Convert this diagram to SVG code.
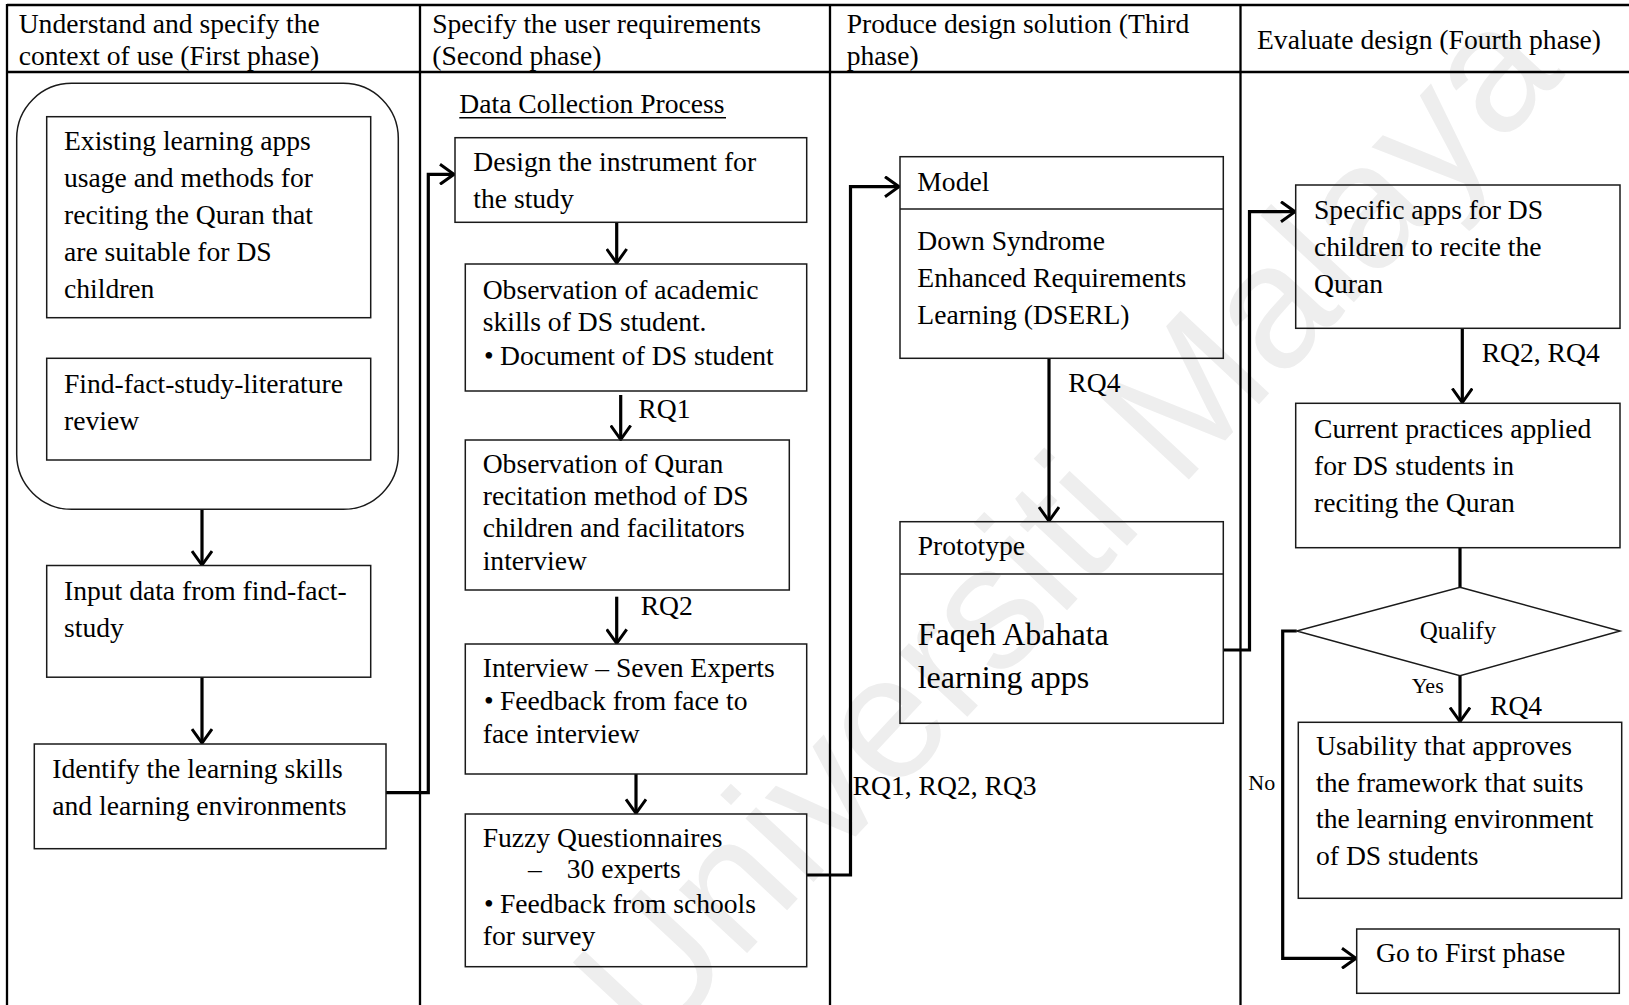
<svg xmlns="http://www.w3.org/2000/svg" width="1629" height="1005" viewBox="0 0 1629 1005">
  <style>
    .t { font-family: "Liberation Serif", "Times New Roman", serif; font-size: 27.6px; fill: #000; }
    .big { font-size: 32px; }
    .sm { font-size: 25px; }
    .xs { font-size: 22px; }
    .box { fill: none; stroke: #1a1a1a; stroke-width: 1.5; }
    .grid { stroke: #000; stroke-width: 2.3; fill: none; }
    .conn { stroke: #000; stroke-width: 3.2; fill: none; }
    .arr { stroke: #000; stroke-width: 3.2; fill: none; marker-end: url(#ah); }
    .wm { font-family: "Liberation Sans", Arial, sans-serif; font-size: 176px; fill: #eeeeee; }
  </style>
  <defs>
    <marker id="ah" viewBox="0 0 16 22" refX="15" refY="11" markerWidth="16" markerHeight="22" markerUnits="userSpaceOnUse" orient="auto">
      <path d="M1,1 L15,11 L1,21" fill="none" stroke="#000" stroke-width="3"/>
    </marker>
  </defs>

  <rect width="1629" height="1005" fill="#fff"/>

  <!-- watermark -->
  <text class="wm" transform="translate(1063,522) rotate(-47)" text-anchor="middle" y="63">Universiti Malaya</text>

  <!-- table frame -->
  <g id="table" class="grid">
    <line x1="7" y1="5" x2="1629" y2="5"/>
    <line x1="7" y1="72" x2="1629" y2="72"/>
    <line x1="7" y1="4" x2="7" y2="1005"/>
    <line x1="420" y1="4" x2="420" y2="1005"/>
    <line x1="830" y1="4" x2="830" y2="1005"/>
    <line x1="1240.5" y1="4" x2="1240.5" y2="1005"/>
  </g>

  <!-- phase headers -->
  <g id="header-phase1">
    <text class="t" x="18.7" y="33">Understand and specify the</text>
    <text class="t" x="18.7" y="64.5">context of use (First phase)</text>
  </g>
  <g id="header-phase2">
    <text class="t" x="432.2" y="33">Specify the user requirements</text>
    <text class="t" x="432.2" y="64.5">(Second phase)</text>
  </g>
  <g id="header-phase3">
    <text class="t" x="846.7" y="33">Produce design solution (Third</text>
    <text class="t" x="846.7" y="64.5">phase)</text>
  </g>
  <g id="header-phase4">
    <text class="t" x="1257" y="48.5">Evaluate design (Fourth phase)</text>
  </g>

  <!-- connectors -->
  <g id="connectors">
    <line class="arr" x1="202" y1="509.5" x2="202" y2="565"/>
    <line class="arr" x1="202" y1="677" x2="202" y2="743"/>
    <polyline class="arr" points="386,792.7 428.3,792.7 428.3,174.3 454,174.3"/>
    <line class="arr" x1="616.7" y1="222.3" x2="616.7" y2="263"/>
    <line class="arr" x1="620.7" y1="395" x2="620.7" y2="439.5"/>
    <line class="arr" x1="616.7" y1="596.7" x2="616.7" y2="643.3"/>
    <line class="arr" x1="636" y1="774" x2="636" y2="813.3"/>
    <polyline class="arr" points="806.7,875 850.5,875 850.5,186.7 899,186.7"/>
    <line class="arr" x1="1049" y1="358.3" x2="1049" y2="521"/>
    <polyline class="arr" points="1223.3,650 1249.5,650 1249.5,211.7 1295,211.7"/>
    <line class="arr" x1="1462.3" y1="328.3" x2="1462.3" y2="402.5"/>
    <line class="conn" x1="1460" y1="547.7" x2="1460" y2="587.3"/>
    <line class="arr" x1="1460" y1="675.7" x2="1460" y2="721.5"/>
    <polyline class="arr" points="1296.7,631 1282.7,631 1282.7,958.3 1356,958.3"/>
    <text class="t" x="638.3" y="418">RQ1</text>
    <text class="t" x="640.7" y="615">RQ2</text>
    <text class="t" x="852.7" y="795">RQ1, RQ2, RQ3</text>
    <text class="t" x="1068.3" y="391.7">RQ4</text>
    <text class="t" x="1481.7" y="361.7">RQ2, RQ4</text>
    <text class="t xs" x="1411.7" y="693.3">Yes</text>
    <text class="t" x="1490" y="715">RQ4</text>
    <text class="t xs" x="1248.3" y="790">No</text>
  </g>

  <!-- first phase -->
  <g id="context-group">
    <rect class="box" x="16.7" y="83.3" width="381.6" height="426" rx="55" ry="55"/>
  </g>
  <g id="existing-apps">
    <rect class="box" x="46.7" y="116.7" width="324" height="201"/>
    <text class="t" x="64" y="150">Existing learning apps</text>
    <text class="t" x="64" y="187">usage and methods for</text>
    <text class="t" x="64" y="224">reciting the Quran that</text>
    <text class="t" x="64" y="261">are suitable for DS</text>
    <text class="t" x="64" y="298">children</text>
  </g>
  <g id="literature-review">
    <rect class="box" x="46.7" y="358.3" width="324" height="101.7"/>
    <text class="t" x="64" y="392.5">Find-fact-study-literature</text>
    <text class="t" x="64" y="429.5">review</text>
  </g>
  <g id="input-data">
    <rect class="box" x="46.7" y="565.5" width="324" height="111.7"/>
    <text class="t" x="64" y="600">Input data from find-fact-</text>
    <text class="t" x="64" y="636.5">study</text>
  </g>
  <g id="identify-skills">
    <rect class="box" x="34.3" y="744" width="351.7" height="104.7"/>
    <text class="t" x="52.3" y="778">Identify the learning skills</text>
    <text class="t" x="52.3" y="815">and learning environments</text>
  </g>

  <!-- second phase -->
  <g id="data-collection-title">
    <text class="t" x="459.3" y="113.3">Data Collection Process</text>
    <line x1="459.3" y1="117.8" x2="726" y2="117.8" stroke="#000" stroke-width="1.5"/>
  </g>
  <g id="design-instrument">
    <rect class="box" x="455" y="137.7" width="351.7" height="84.6"/>
    <text class="t" x="473.3" y="170.7">Design the instrument for</text>
    <text class="t" x="473.3" y="207.7">the study</text>
  </g>
  <g id="observe-academic">
    <rect class="box" x="465.3" y="264" width="341.4" height="127"/>
    <text class="t" x="482.7" y="299">Observation of academic</text>
    <text class="t" x="482.7" y="330.5">skills of DS student.</text>
    <text class="t" x="484" y="364.5">•</text>
    <text class="t" x="500" y="364.5">Document of DS student</text>
  </g>
  <g id="observe-recitation">
    <rect class="box" x="465.3" y="440" width="324" height="150"/>
    <text class="t" x="482.7" y="473.3">Observation of Quran</text>
    <text class="t" x="482.7" y="505">recitation method of DS</text>
    <text class="t" x="482.7" y="536.7">children and facilitators</text>
    <text class="t" x="482.7" y="570">interview</text>
  </g>
  <g id="expert-interview">
    <rect class="box" x="465.3" y="644" width="341.4" height="130"/>
    <text class="t" x="482.7" y="676.7">Interview – Seven Experts</text>
    <text class="t" x="484" y="710">•</text>
    <text class="t" x="500" y="710">Feedback from face to</text>
    <text class="t" x="482.7" y="742.7">face interview</text>
  </g>
  <g id="fuzzy-questionnaires">
    <rect class="box" x="465.3" y="814" width="341.4" height="152.7"/>
    <text class="t" x="482.7" y="846.7">Fuzzy Questionnaires</text>
    <text class="t" x="528" y="878.3">–</text>
    <text class="t" x="566.7" y="878.3">30 experts</text>
    <text class="t" x="484" y="912.7">•</text>
    <text class="t" x="500" y="912.7">Feedback from schools</text>
    <text class="t" x="482.7" y="945">for survey</text>
  </g>

  <!-- third phase -->
  <g id="model">
    <rect class="box" x="900" y="156.7" width="323.3" height="201.6"/>
    <line class="box" x1="900" y1="209" x2="1223.3" y2="209"/>
    <text class="t" x="917.3" y="190.7">Model</text>
    <text class="t" x="917.3" y="250">Down Syndrome</text>
    <text class="t" x="917.3" y="286.7">Enhanced Requirements</text>
    <text class="t" x="917.3" y="324.3">Learning (DSERL)</text>
  </g>
  <g id="prototype">
    <rect class="box" x="900" y="521.7" width="323.3" height="201.6"/>
    <line class="box" x1="900" y1="574" x2="1223.3" y2="574"/>
    <text class="t" x="917.7" y="555">Prototype</text>
    <text class="t big" x="917.7" y="645">Faqeh Abahata</text>
    <text class="t big" x="917.7" y="688.3">learning apps</text>
  </g>

  <!-- fourth phase -->
  <g id="specific-apps">
    <rect class="box" x="1295.7" y="185" width="324.3" height="143.3"/>
    <text class="t" x="1314" y="219">Specific apps for DS</text>
    <text class="t" x="1314" y="256">children to recite the</text>
    <text class="t" x="1314" y="292.5">Quran</text>
  </g>
  <g id="current-practices">
    <rect class="box" x="1295.7" y="403.3" width="324.3" height="144.4"/>
    <text class="t" x="1314" y="438.3">Current practices applied</text>
    <text class="t" x="1314" y="475">for DS students in</text>
    <text class="t" x="1314" y="511.7">reciting the Quran</text>
  </g>
  <g id="qualify">
    <polygon class="box" points="1460,587.3 1620,631 1460,675.7 1296.7,631"/>
    <text class="t sm" x="1458" y="639.3" text-anchor="middle">Qualify</text>
  </g>
  <g id="usability">
    <rect class="box" x="1298.3" y="722.3" width="323.4" height="176"/>
    <text class="t" x="1316" y="755">Usability that approves</text>
    <text class="t" x="1316" y="791.7">the framework that suits</text>
    <text class="t" x="1316" y="828.3">the learning environment</text>
    <text class="t" x="1316" y="865">of DS students</text>
  </g>
  <g id="first-phase-return">
    <rect class="box" x="1356.7" y="929" width="262.6" height="64.3"/>
    <text class="t" x="1376" y="961.7">Go to First phase</text>
  </g>
</svg>
